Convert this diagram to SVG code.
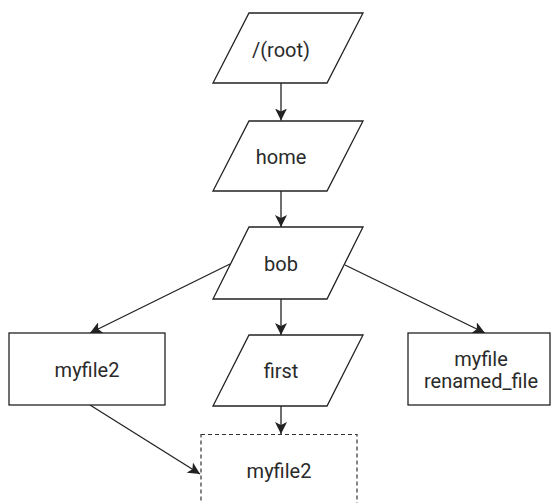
<svg xmlns="http://www.w3.org/2000/svg" width="558" height="503" viewBox="0 0 558 503">
  <defs>
    <marker id="arrow" viewBox="0 0 12 12" refX="12" refY="6" markerWidth="12" markerHeight="12" markerUnits="userSpaceOnUse" orient="auto">
      <path d="M0,0 L12,6 L0,12 L3,6 z" fill="#222"/>
    </marker>
    <style>
      .shape { fill: #fff; stroke: #222; stroke-width: 1.3; }
      .dashed { fill: #fff; stroke: #333; stroke-width: 1.2; stroke-dasharray: 4 3; }
      .edge { fill: none; stroke: #222; stroke-width: 1.3; marker-end: url(#arrow); }
      text { font-family: Roboto, "Liberation Sans", sans-serif; font-size: 20px; fill: #2a2a2a; text-anchor: middle; }
    </style>
  </defs>

  <g id="connectors">
    <path class="edge" d="M281,83 L281,120.5"/>
    <path class="edge" d="M281,191 L281,227"/>
    <path class="edge" d="M281,299 L281,335"/>
    <path class="edge" d="M230,264 L90,333"/>
    <path class="edge" d="M345,265 L485,333"/>
    <path class="edge" d="M90,405 L200,474"/>
    <path class="edge" d="M281,406 L281,434"/>
  </g>

  <g id="root">
    <polygon class="shape" points="249,13 363,13 327,83 213,83"/>
    <text x="281" y="57">/(root)</text>
  </g>
  <g id="home">
    <polygon class="shape" points="249,121 363,121 327,191 213,191"/>
    <text x="281" y="164">home</text>
  </g>
  <g id="bob">
    <polygon class="shape" points="249,227 363,227 327,299 213,299"/>
    <text x="281" y="271">bob</text>
  </g>
  <g id="first">
    <polygon class="shape" points="249,335 363,335 327,406 213,406"/>
    <text x="281" y="378">first</text>
  </g>
  <g id="myfile2-left">
    <rect class="shape" x="9" y="333" width="156" height="72"/>
    <text x="87" y="377">myfile2</text>
  </g>
  <g id="myfile-renamed">
    <rect class="shape" x="408" y="333" width="142" height="72"/>
    <text x="481" y="366">myfile</text>
    <text x="481" y="388">renamed_file</text>
  </g>
  <g id="myfile2-new">
    <rect class="dashed" x="201" y="434.5" width="156" height="80"/>
    <text x="279" y="478">myfile2</text>
  </g>
</svg>
